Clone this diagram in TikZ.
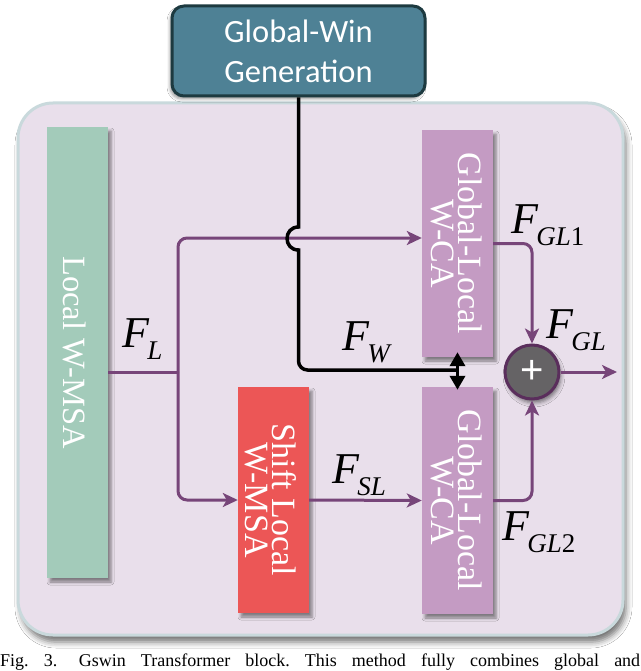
\documentclass[tikz,border=0pt]{standalone}
\usepackage{fontspec}
\setmainfont{Liberation Serif}
\newfontfamily\carlito{Carlito}
\newfontfamily\lsans{Liberation Sans}
\usetikzlibrary{shadows.blur, arrows.meta}
\definecolor{bgfill}{HTML}{E9DFEB}
\definecolor{bgedge}{HTML}{C9D9DC}
\definecolor{greenbox}{HTML}{A3CBBA}
\definecolor{purplebox}{HTML}{C49BC3}
\definecolor{redbox}{HTML}{EC5656}
\definecolor{gwfill}{HTML}{4E8195}
\definecolor{gwedge}{HTML}{1D3A40}
\definecolor{arrowpurple}{HTML}{774579}
\definecolor{circfill}{HTML}{656365}
\definecolor{circedge}{HTML}{5A2E5C}
\newcommand{\Fsub}[1]{\textit{F}\kern-2pt\raisebox{-12pt}{\fontsize{27}{27}\selectfont #1}}
\begin{document}
\begin{tikzpicture}[x=1pt,y=-1pt,
  panel/.style={fill=bgfill, draw=bgedge, line width=3pt, rounded corners=35pt, inner sep=0pt,
    blur shadow={shadow xshift=3pt, shadow yshift=-7pt, shadow blur radius=6pt, shadow opacity=55}},
  blockbox/.style={inner sep=0pt, minimum width=71pt,
    blur shadow={shadow xshift=3pt, shadow yshift=-4pt, shadow blur radius=3pt, shadow opacity=45}},
  vtext/.style={rotate=-90, text=white, align=center, inner sep=0pt, font=\fontsize{34}{27}\selectfont},
  parrow/.style={draw=arrowpurple, line width=3pt, -{Stealth[length=15pt,width=14pt,inset=4pt]}},
  pline/.style={draw=arrowpurple, line width=3pt},
  blackline/.style={draw=black, line width=3.5pt},
  flabel/.style={anchor=base west, inner sep=0pt, font=\fontsize{44}{44}\selectfont}
]
\useasboundingbox (0,0) rectangle (640,671);
\clip (0,0) rectangle (640,671);
\fill[white] (0,0) rectangle (640,671);

% container
\node[panel, minimum width=605pt, minimum height=532pt] (panel) at (320.5,369) {};

% blocks
\node[blockbox, fill=greenbox, minimum width=61pt, minimum height=451pt] (lw) at (77.5,352.5) {};
\node[vtext, font=\fontsize{32.5}{27}\selectfont] (lwt) at ([xshift=-3pt]lw.center) {Local W-MSA};

\node[blockbox, fill=purplebox, minimum height=227pt] (gl1) at (457.5,243.5) {};
\node[vtext] (gl1t) at ([xshift=-1pt]gl1.center) {Global-Local\\W-CA};

\node[blockbox, fill=purplebox, minimum height=227pt] (gl2) at (457.5,500.5) {};
\node[vtext] (gl2t) at ([xshift=-1pt]gl2.center) {Global-Local\\W-CA};

\node[blockbox, fill=redbox, minimum height=226pt] (sl) at (273.5,500) {};
\node[vtext] (slt) at ([xshift=-3pt]sl.center) {Shift Local\\W-MSA};

\node[circle, fill=circfill, draw=circedge, line width=3pt, minimum size=54pt, inner sep=0pt,
  blur shadow={shadow xshift=2pt, shadow yshift=-4pt, shadow blur radius=4pt, shadow opacity=50}]
  (plus) at (532,372) {\lsans\fontsize{40}{40}\selectfont\color{white}+};

% coordinates
\coordinate (j) at (178,372);
\coordinate (hopT) at (298.5,227);
\coordinate (hopB) at (298.5,250);
\coordinate (fwturn) at (298.5,370);
\coordinate (fwend) at (457.5,370);
\coordinate (outend) at (617,372);

% purple connectors
\draw[pline] (lw.east |- j) -- (j);
\draw[parrow, rounded corners=9pt] (j) |- ([yshift=5.5pt]gl1.west);
\draw[parrow, rounded corners=9pt] (j) |- (sl.west);
\draw[parrow] (sl.east) -- (gl2.west);
\draw[parrow, rounded corners=9pt] (gl1.east) -| (plus.north);
\draw[parrow, rounded corners=9pt] (gl2.east) -| (plus.south);
\draw[parrow] (plus.east) -- (outend);

% global-win box
\node[draw=gwedge, fill=gwfill, line width=3pt, rounded corners=12pt, minimum width=253pt, minimum height=90pt,
  inner sep=0pt, text=white, align=center, font=\carlito\fontsize{32.5}{40}\selectfont,
  blur shadow={shadow xshift=-2pt, shadow yshift=-3pt, shadow blur radius=3pt, shadow opacity=40}]
  (gw) at (298.5,51) {Global-Win\\Generation};

% black connector with hop
\draw[blackline] (gw.south) -- (hopT) .. controls (283.2,227) and (283.2,250) .. (hopB)
  [rounded corners=9pt] -- (fwturn) -- (fwend);
\draw[blackline, {Triangle[length=14pt,width=15pt]}-{Triangle[length=14pt,width=15pt]}]
  ([yshift=5pt]gl1.south) -- ([yshift=-3pt]gl2.north);

% labels
\node[flabel] (lFL) at (122,347) {\Fsub{\textit{L}}};
\node[flabel] (lFW) at (342,350) {\Fsub{\textit{W}}};
\node[flabel] (lFSL) at (332,483) {\Fsub{\textit{SL}}};
\node[flabel] (lFGL1) at (511,233) {\Fsub{\textit{GL}1}};
\node[flabel] (lFGL) at (546,338) {\Fsub{\textit{GL}}};
\node[flabel] (lFGL2) at (502,540) {\Fsub{\textit{GL}2}};

% caption
\node[anchor=base west, inner sep=0pt] (cap) at (0,666.5)
  {\fontsize{18}{20}\selectfont\frenchspacing\makebox[640pt][s]{Fig. 3.\hspace{1.2em}Gswin Transformer block. This method fully combines global and}};
\end{tikzpicture}
\end{document}
